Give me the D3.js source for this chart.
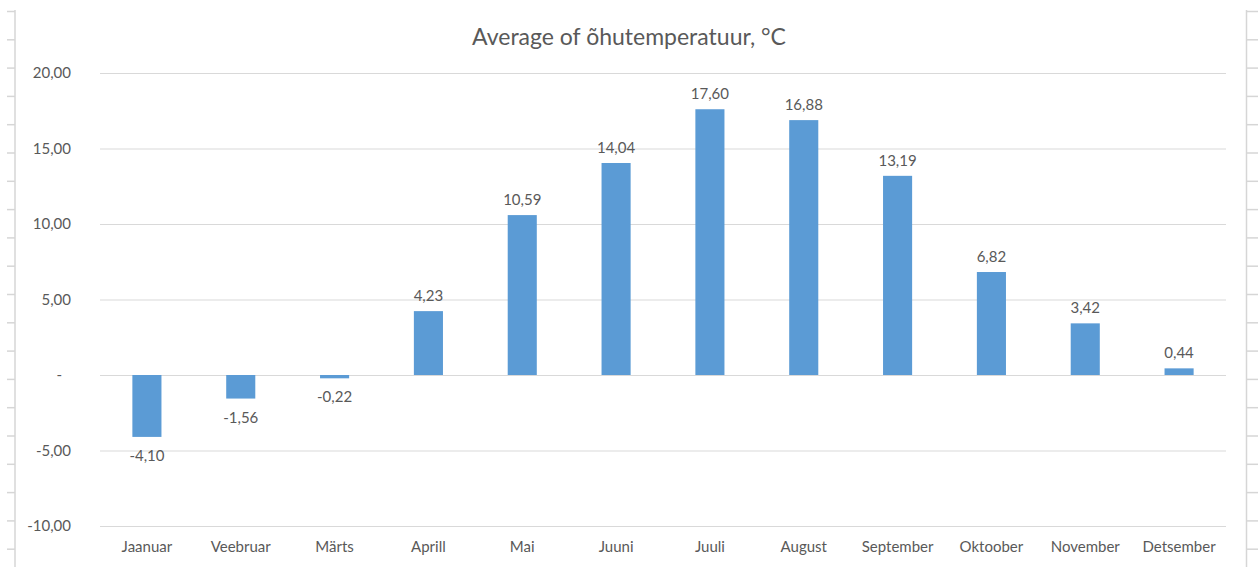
<!DOCTYPE html>
<html>
<head>
<meta charset="utf-8">
<script src="https://cdn.jsdelivr.net/npm/d3@7"></script>
<style>
  body { margin: 0; background: #fff; }
  svg text { font-family: Lato, "Noto Sans", sans-serif; fill: #595959; }
</style>
</head>
<body>
<div class="chart"></div>
<script>
var svgWidth = 1258;
var svgHeight = 567;

// chart data
var months = ["Jaanuar", "Veebruar", "Märts", "Aprill", "Mai", "Juuni",
  "Juuli", "August", "September", "Oktoober", "November", "Detsember"];
var temps = [-4.10, -1.56, -0.22, 4.23, 10.59, 14.04, 17.60, 16.88, 13.19, 6.82, 3.42, 0.44];
var yTicks = [-10, -5, 0, 5, 10, 15, 20];
var title = "Average of õhutemperatuur, °C";

var margin = { top: 73, right: 32, bottom: 41, left: 100 };
var width = svgWidth - margin.left - margin.right;
var height = svgHeight - margin.top - margin.bottom;

var locale = d3.formatLocale({ decimal: ",", thousands: " ", grouping: [3], currency: ["", ""], minus: "-" });
var fmt = locale.format(".2f");

var svg = d3.select(".chart")
  .append("svg")
  .attr("width", svgWidth)
  .attr("height", svgHeight);

// spreadsheet row/column edges peeking out at the sides
var edges = svg.append("g").attr("stroke", "#d6d6d6").attr("stroke-width", 1.5);
edges.append("line").attr("x1", 15).attr("x2", 15).attr("y1", 10).attr("y2", svgHeight);
edges.append("line").attr("x1", 1246.5).attr("x2", 1246.5).attr("y1", 10).attr("y2", svgHeight);
d3.range(11.5, svgHeight, 28.3).forEach(function(y) {
  edges.append("line").attr("x1", 7).attr("x2", 15).attr("y1", y).attr("y2", y);
  edges.append("line").attr("x1", 1246).attr("x2", 1258).attr("y1", y).attr("y2", y);
});

var chartGroup = svg.append("g")
  .attr("transform", `translate(${margin.left}, ${margin.top})`);

var xBandScale = d3.scaleBand()
  .domain(months)
  .range([0, width])
  .paddingInner(0.69)
  .paddingOuter(0.345);

var yLinearScale = d3.scaleLinear()
  .domain([-10, 20])
  .range([height, 0]);

// gridlines + y labels
var leftAxis = d3.axisLeft(yLinearScale)
  .tickValues(yTicks)
  .tickSize(-width)
  .tickPadding(29)
  .tickFormat(d => d === 0 ? "-" : fmt(d));

var yAxis = chartGroup.append("g").call(leftAxis);
yAxis.select(".domain").remove();
yAxis.selectAll(".tick line").attr("stroke", "#d9d9d9");
yAxis.selectAll(".tick text").style("font-size", "15px").attr("fill", "#595959");
// accounting-style zero sits a bit further left
yAxis.selectAll(".tick text").filter(d => d === 0).attr("dx", -9);

// bars
chartGroup.selectAll("rect.bar")
  .data(temps)
  .enter()
  .append("rect")
  .attr("class", "bar")
  .attr("x", (d, i) => xBandScale(months[i]))
  .attr("width", xBandScale.bandwidth())
  .attr("y", d => yLinearScale(Math.max(0, d)))
  .attr("height", d => Math.abs(yLinearScale(d) - yLinearScale(0)))
  .attr("fill", "#5b9bd5");

// data labels
chartGroup.selectAll("text.val")
  .data(temps)
  .enter()
  .append("text")
  .attr("class", "val")
  .attr("x", (d, i) => xBandScale(months[i]) + xBandScale.bandwidth() / 2)
  .attr("y", d => d >= 0 ? yLinearScale(d) - 10 : yLinearScale(d) + 24)
  .attr("text-anchor", "middle")
  .style("font-size", "15px")
  .text(d => fmt(d));

// x labels
chartGroup.selectAll("text.cat")
  .data(months)
  .enter()
  .append("text")
  .attr("class", "cat")
  .attr("x", d => xBandScale(d) + xBandScale.bandwidth() / 2)
  .attr("y", height + 26)
  .attr("text-anchor", "middle")
  .style("font-size", "15px")
  .text(d => d);

// title
svg.append("text")
  .attr("x", 629)
  .attr("y", 45)
  .attr("text-anchor", "middle")
  .style("font-size", "23px")
  .text(title);
</script>
</body>
</html>
